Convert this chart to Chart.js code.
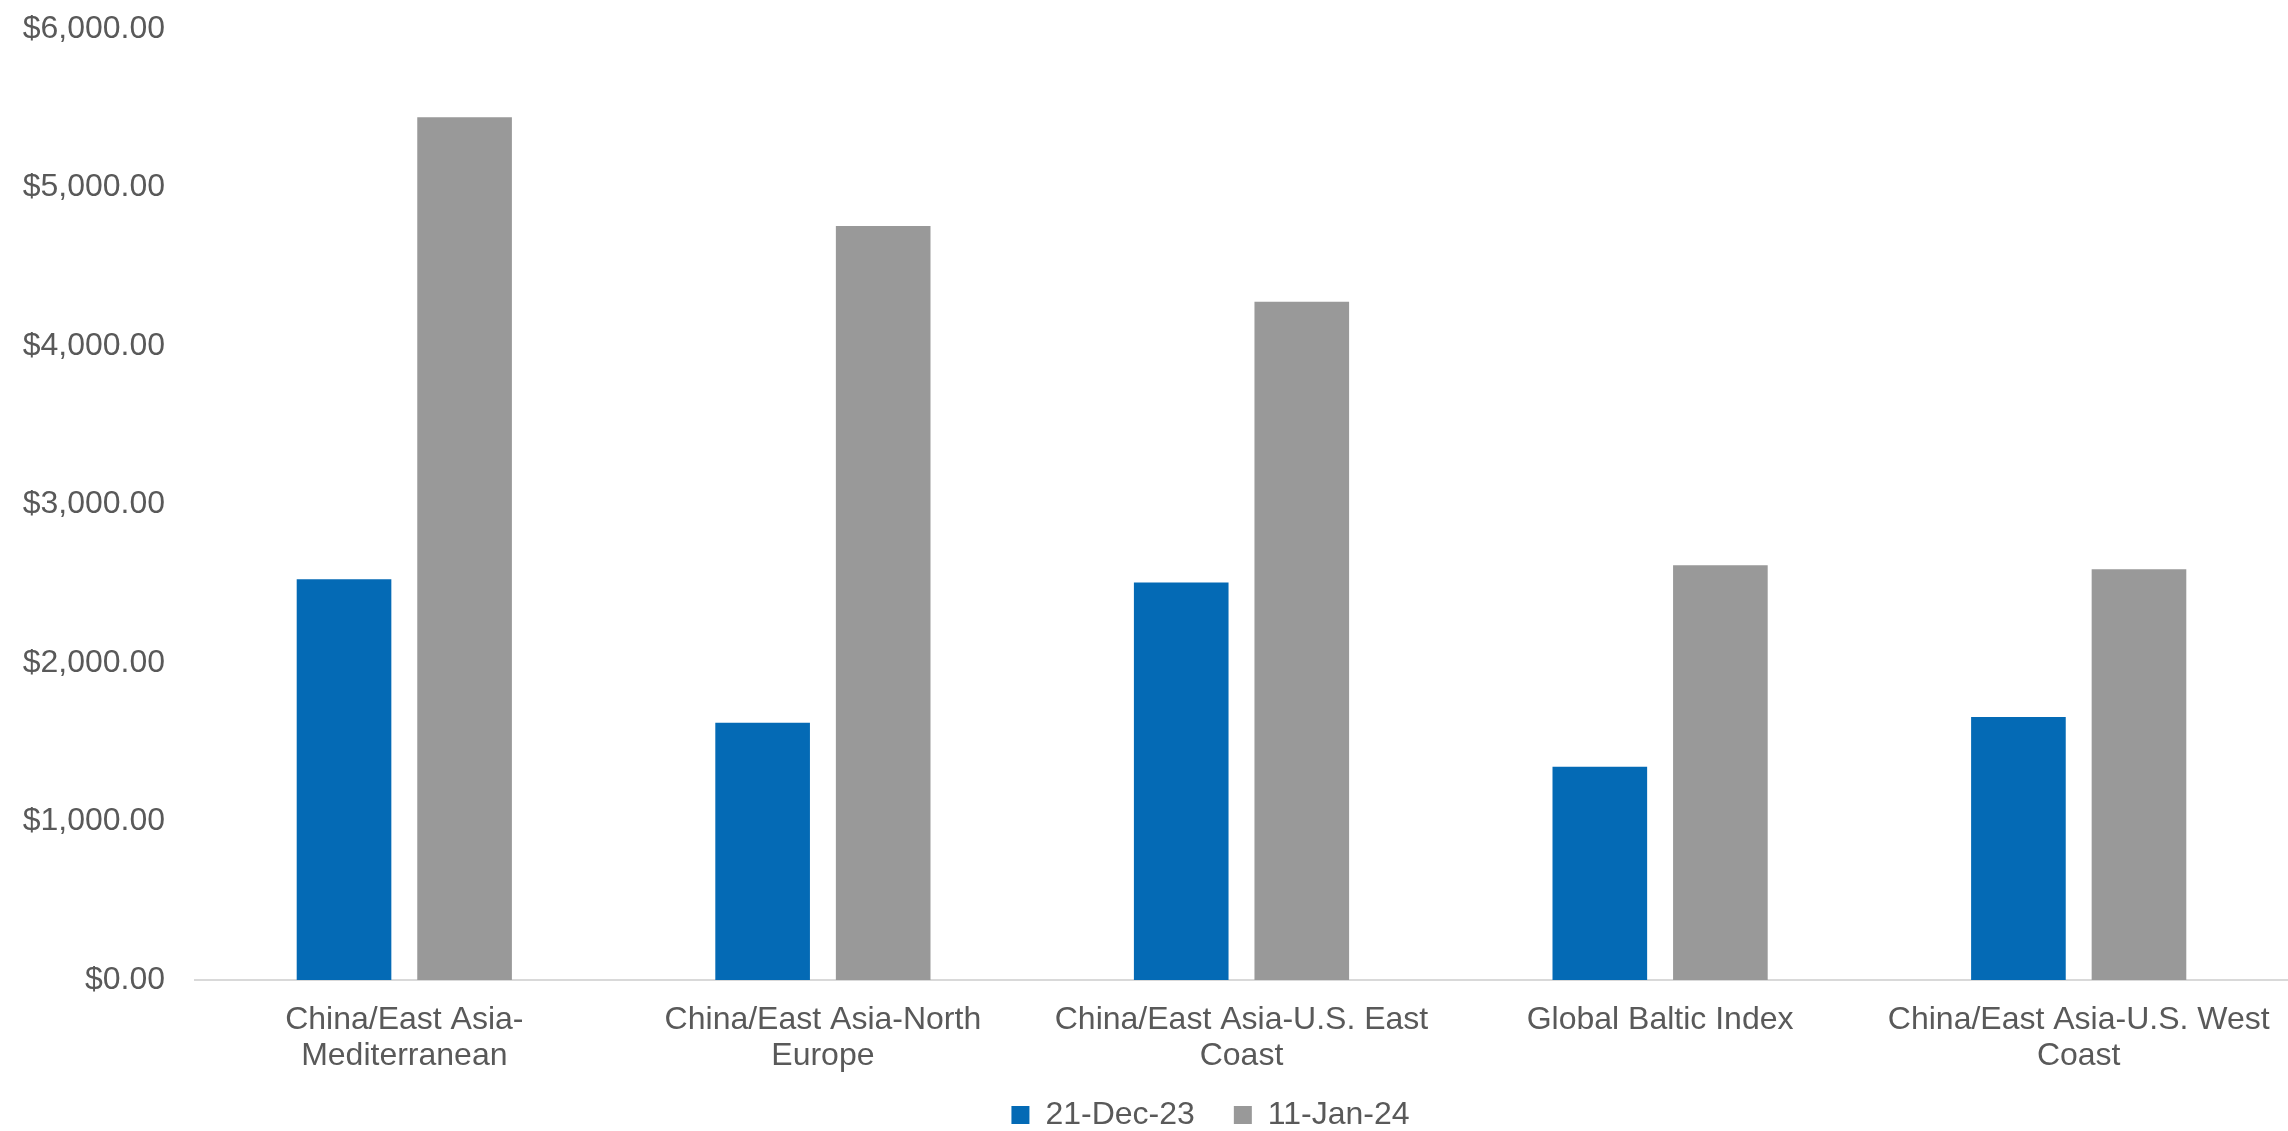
<!DOCTYPE html>
<html>
<head>
<meta charset="utf-8">
<title>Container freight rates</title>
<script src="https://cdn.jsdelivr.net/npm/chart.js@4.4.1/dist/chart.umd.min.js"></script>
<style>
  html, body { margin: 0; padding: 0; background: #fff; }
  #wrap { width: 2288px; height: 1131px; }
</style>
</head>
<body>
<div id="wrap"><canvas id="rates"></canvas></div>
<script>
// route names, split over two lines the way they wrap under the axis
const categories = [
  ['China/East Asia-', 'Mediterranean'],
  ['China/East Asia-North', 'Europe'],
  ['China/East Asia-U.S. East', 'Coast'],
  'Global Baltic Index',
  ['China/East Asia-U.S. West', 'Coast']
]
const seriesNames = ['21-Dec-23', '11-Jan-24']
const dec21Values = [2528, 1623, 2508, 1346, 1659]
const jan11Values = [5443, 4757, 4279, 2616, 2591]
const yMin = 0
const yMax = 6000
const yStep = 1000

const textColor = '#595959'
const font = { family: '"Liberation Sans", Arial, sans-serif', size: 32 }

Chart.defaults.font.family = font.family
Chart.defaults.color = textColor

const money = v => '$' + Number(v).toLocaleString('en-US', { minimumFractionDigits: 2, maximumFractionDigits: 2 })

// the legend sits a bit right of centre and tucks up under the axis labels
const legendShift = {
  id: 'legendShift',
  afterLayout(chart) {
    const lg = chart.legend
    if (!lg) return
    lg.left += 64
    lg.right += 64
    lg.top -= 30
    lg.bottom -= 30
  }
}

new Chart(document.getElementById('rates').getContext('2d'), {
  type: 'bar',
  data: {
    labels: categories,
    datasets: [{
      label: seriesNames[0],
      data: dec21Values,
      backgroundColor: '#046AB5'
    }, {
      label: seriesNames[1],
      data: jan11Values,
      backgroundColor: '#999999'
    }]
  },
  plugins: [legendShift],
  options: {
    responsive: true,
    maintainAspectRatio: false,
    animation: false,
    datasets: {
      bar: { categoryPercentage: 0.576, barPercentage: 0.785 }
    },
    layout: {
      padding: { top: 29, right: -5, bottom: -40, left: 0 }
    },
    plugins: {
      tooltip: { enabled: false },
      legend: {
        position: 'bottom',
        labels: {
          font: font,
          color: textColor,
          boxWidth: 18,
          boxHeight: 18,
          padding: 39
        }
      }
    },
    scales: {
      x: {
        grid: { display: false, drawTicks: false },
        border: { display: true, color: '#D9D9D9', width: 2 },
        ticks: {
          font: { family: font.family, size: 32, lineHeight: 1.125 },
          color: textColor,
          padding: 22,
          maxRotation: 0,
          autoSkip: false
        },
        afterFit: scale => {
          scale.height = 110
          scale.paddingLeft = 0
          scale.paddingRight = 0
        }
      },
      y: {
        min: yMin,
        max: yMax,
        grid: { display: false, drawTicks: false },
        border: { display: false },
        ticks: {
          stepSize: yStep,
          font: font,
          color: textColor,
          padding: 30,
          callback: v => money(v)
        },
        afterFit: scale => {
          scale.width = 195
          scale.paddingTop = 0
          scale.paddingBottom = 0
        }
      }
    }
  }
})
</script>
</body>
</html>
